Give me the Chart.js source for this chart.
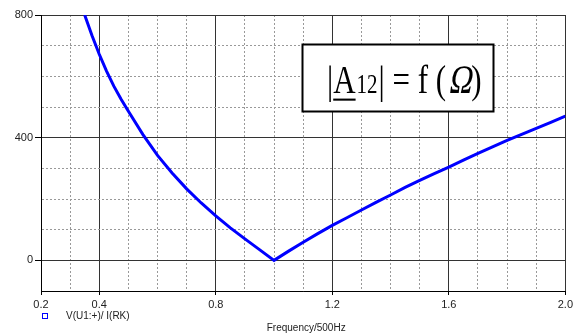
<!DOCTYPE html>
<html><head><meta charset="utf-8">
<script src="https://cdn.jsdelivr.net/npm/chart.js@4/dist/chart.umd.min.js"></script>
<style>html,body{margin:0;padding:0;background:#fff}#wrap{width:576px;height:334px}</style>
</head><body><div id="wrap"><canvas id="c" width="576" height="334"></canvas></div>
<script>
// Frequency normalised to 500 Hz
const freq = [0.35,0.375,0.4,0.425,0.45,0.475,0.5,0.55,0.6,0.65,0.7,0.75,0.8,0.85,0.9,0.95,1.0,
              1.05,1.1,1.15,1.2,1.25,1.3,1.35,1.4,1.45,1.5,1.55,1.6,1.65,1.7,1.75,1.8,1.85,1.9,1.95,2.0];
// |A12| values
const impedance = [800,733,672,617,568,525,486,410,342,285,233,187,145,106,70,35,0,
                   30,59,87,114,139,164,189,213,238,261,283,304,327,349,370,391,411,430,450,470];
const xTickLabels = [0.2,0.4,0.8,1.2,1.6,2.0];
const yTickLabels = [0,400,800];
const seriesName = 'V(U1:+)/ I(RK)';
const xTitle = 'Frequency/500Hz';

const isXLab = v => xTickLabels.some(t => Math.abs(t - v) < 1e-6);
const isXMajor = v => { const k = Math.round(v*10); return k % 4 === 0 || k === 2; };
const isYLab = v => yTickLabels.some(t => Math.abs(t - v) < 1e-6);
const isYMajor = v => { const k = Math.round(v); return k === 0 || k === 400 || k === 800 || k === -100; };

const decor = {
  id: 'decor',
  afterDraw(chart) {
    const ctx = chart.ctx;
    const a = chart.chartArea;
    ctx.save();
    // legend
    ctx.strokeStyle = '#0000ff'; ctx.lineWidth = 1;
    ctx.strokeRect(42.5, 313.5, 5, 5);
    ctx.fillStyle = '#222';
    ctx.font = '10px "Liberation Sans", Arial, sans-serif';
    ctx.textBaseline = 'middle'; ctx.textAlign = 'left';
    ctx.fillText(seriesName, 66, 316);
    // axis title
    ctx.textAlign = 'center';
    ctx.fillText(xTitle, (a.left + a.right)/2 + 3, 328);
    // formula box
    ctx.fillStyle = '#fff';
    ctx.fillRect(302, 44, 192, 68);
    ctx.strokeStyle = '#000'; ctx.lineWidth = 2;
    ctx.strokeRect(302.5, 44.5, 191, 67);
    ctx.fillStyle = '#000';
    ctx.textAlign = 'left'; ctx.textBaseline = 'alphabetic';
    ctx.translate(0, 93);
    ctx.scale(1, 1.3);
    const big = '31px "Liberation Serif", "Times New Roman", serif';
    const sub = '21px "Liberation Serif", "Times New Roman", serif';
    let x = 327;
    const put = (t, f, dx) => { ctx.font = f; ctx.fillText(t, x, 0); const w = ctx.measureText(t).width; x += w + (dx||0); return w; };
    put('|', big, 0);
    const ax = x;
    const aw = put('A', big, 1);
    ctx.fillRect(ax, 4.3, aw, 1.6);
    put('12', sub, 1);
    put('|', big, 0);
    put(' = f (', big, 1);
    // slanted (italic) Omega
    ctx.save();
    ctx.font = big;
    const ow = ctx.measureText('\u03A9').width;
    ctx.transform(1, 0, -0.22, 1, 0, 0);
    ctx.fillText('\u03A9', x + 1, 0);
    ctx.restore();
    x += ow + 1;
    put(')', big, 0);
    ctx.restore();
  }
};

new Chart(document.getElementById('c'), {
  type: 'line',
  data: {
    datasets: [{
      label: seriesName,
      data: freq.map((f, i) => ({x: f, y: impedance[i]})),
      borderColor: '#0000ff', borderWidth: 3, pointRadius: 0, tension: 0, fill: false
    }]
  },
  options: {
    responsive: false, animation: false, devicePixelRatio: 1,
    layout: {padding: {top: 15, right: 2, left: 0, bottom: 0}},
    plugins: {legend: {display: false}, tooltip: {enabled: false}},
    scales: {
      x: {
        type: 'linear', min: 0.2, max: 2.0,
        afterFit: s => { s.height = 43; },
        ticks: {
          stepSize: 0.1, autoSkip: false, maxRotation: 0, padding: 3,
          color: '#222', font: {family: '"Liberation Sans", Arial, sans-serif', size: 11},
          callback: v => isXLab(v) ? v.toFixed(1) : ''
        },
        grid: {
          color: c => (c.tick && isXMajor(c.tick.value)) ? '#333' : '#999',
          lineWidth: 1, tickLength: 4,
          tickColor: c => (c.tick && isXLab(c.tick.value)) ? '#000' : 'rgba(0,0,0,0)'
        },
        border: {display: true, color: '#000', width: 1,
          dash: c => (c.tick && !isXMajor(c.tick.value)) ? [2, 2] : []}
      },
      y: {
        type: 'linear', min: -100, max: 800,
        afterFit: s => { s.width = 41; },
        ticks: {
          stepSize: 100, autoSkip: false, padding: 2,
          color: '#222', font: {family: '"Liberation Sans", Arial, sans-serif', size: 11},
          callback: v => isYLab(v) ? String(v) : ''
        },
        grid: {
          color: c => (c.tick && isYMajor(c.tick.value)) ? '#333' : '#999',
          lineWidth: 1, tickLength: 6,
          tickColor: c => (c.tick && isYLab(c.tick.value)) ? '#000' : 'rgba(0,0,0,0)'
        },
        border: {display: true, color: '#000', width: 1,
          dash: c => (c.tick && !isYMajor(c.tick.value)) ? [2, 2] : []}
      }
    }
  },
  plugins: [decor]
});
</script>
</body></html>
